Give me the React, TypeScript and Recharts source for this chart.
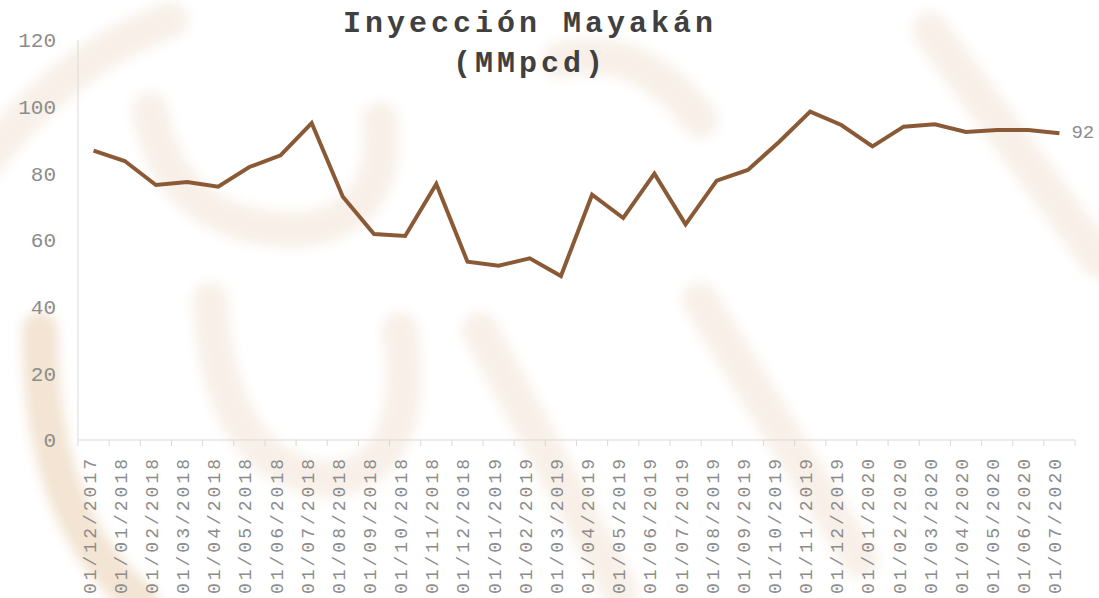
import { LineChart, Line, XAxis, YAxis, LabelList } from "recharts";

// monthly injection, MMpcd
const months = [
  "01/12/2017", "01/01/2018", "01/02/2018", "01/03/2018", "01/04/2018", "01/05/2018",
  "01/06/2018", "01/07/2018", "01/08/2018", "01/09/2018", "01/10/2018", "01/11/2018",
  "01/12/2018", "01/01/2019", "01/02/2019", "01/03/2019", "01/04/2019", "01/05/2019",
  "01/06/2019", "01/07/2019", "01/08/2019", "01/09/2019", "01/10/2019", "01/11/2019",
  "01/12/2019", "01/01/2020", "01/02/2020", "01/03/2020", "01/04/2020", "01/05/2020",
  "01/06/2020", "01/07/2020",
];
const injection = [
  86.8, 83.7, 76.5, 77.4, 76.0, 81.9, 85.4, 95.1, 73.0, 61.8, 61.2, 76.8,
  53.5, 52.3, 54.5, 49.2, 73.6, 66.6, 79.9, 64.7, 77.8, 81.0, 89.4, 98.5,
  94.5, 88.1, 94.0, 94.7, 92.4, 93.0, 93.0, 92.0,
];
const yTicks = [0, 20, 40, 60, 80, 100, 120];

const W = 1099;
const H = 598;
const M = { top: 40, right: 24, left: 0, bottom: 0 };
const Y_W = 78;
const X_H = 158;
const band = (W - M.left - M.right - Y_W) / months.length;

const mono = "'Liberation Mono', 'Courier New', monospace";
const grey = "#8c8c8c";
const axisGrey = "#d9d9d9";
const brown = "#8a5a37";

const data = months.map((m, i) => ({ month: m, value: injection[i] }));

function MonthTick(props: any) {
  const { x, y, payload, index } = props;
  return (
    <g>
      {index === 0 && (
        <line x1={x - band / 2} x2={x - band / 2} y1={y} y2={y + 6} stroke={axisGrey} />
      )}
      <line x1={x + band / 2} x2={x + band / 2} y1={y} y2={y + 6} stroke={axisGrey} />
      <text
        transform={`translate(${x - 3},${y + 16}) rotate(-90)`}
        textAnchor="end"
        dominantBaseline="central"
        fill={grey}
        fontFamily={mono}
        fontSize={18}
        letterSpacing={3}
      >
        {payload.value}
      </text>
    </g>
  );
}

function LastLabel(props: any) {
  const { x, y, value, index } = props;
  if (index !== injection.length - 1) return null;
  return (
    <text x={x + 12} y={y} dominantBaseline="central" fill={grey} fontFamily={mono} fontSize={19}>
      {Math.round(value)}
    </text>
  );
}

// soft, faint watermark behind the chart
function Watermark() {
  return (
    <svg width={W} height={H} style={{ position: "absolute", left: 0, top: 0 }}>
      <defs>
        <filter id="soft" x="-10%" y="-10%" width="120%" height="120%">
          <feGaussianBlur stdDeviation="6" />
        </filter>
      </defs>
      <g fill="none" stroke="#f8f0e8" strokeLinecap="round" strokeWidth={36} filter="url(#soft)">
        <path d="M -20 170 Q 60 60 170 20" />
        <path d="M 150 110 Q 170 230 300 230 Q 390 220 380 120" />
        <path d="M 40 330 Q 40 520 140 600" stroke="#f3e4d3" />
        <path d="M 210 300 Q 220 470 330 480 Q 420 470 400 330" />
        <path d="M 560 60 Q 640 40 700 120" />
        <path d="M 480 330 L 620 590" />
        <path d="M 700 300 L 860 560" />
        <path d="M 930 30 L 1099 260" />
      </g>
    </svg>
  );
}

export default function App() {
  return (
    <div style={{ position: "absolute", left: 0, top: 0, width: W, height: H, background: "#fff" }}>
      <Watermark />
      <div
        style={{
          position: "absolute",
          left: 0,
          top: 4,
          width: 1060,
          textAlign: "center",
          fontFamily: mono,
          fontWeight: "bold",
          fontSize: 30,
          letterSpacing: 4,
          lineHeight: "40px",
          color: "#404040",
        }}
      >
        Inyección Mayakán
        <br />
        (MMpcd)
      </div>
      <div style={{ position: "absolute", left: 0, top: 0 }}>
        <LineChart width={W} height={H} data={data} margin={M}>
          <XAxis
            dataKey="month"
            height={X_H}
            interval={0}
            padding={{ left: band / 2, right: band / 2 }}
            stroke={axisGrey}
            tickLine={false}
            tickSize={0}
            tickMargin={0}
            tick={<MonthTick />}
          />
          <YAxis
            width={Y_W}
            domain={[0, 120]}
            ticks={yTicks}
            stroke={axisGrey}
            tickLine={false}
            tickSize={0}
            tickMargin={22}
            tick={{ fill: grey, fontFamily: mono, fontSize: 21 }}
          />
          <Line
            dataKey="value"
            type="linear"
            stroke={brown}
            strokeWidth={4}
            dot={false}
            isAnimationActive={false}
          >
            <LabelList dataKey="value" content={<LastLabel />} />
          </Line>
        </LineChart>
      </div>
    </div>
  );
}
